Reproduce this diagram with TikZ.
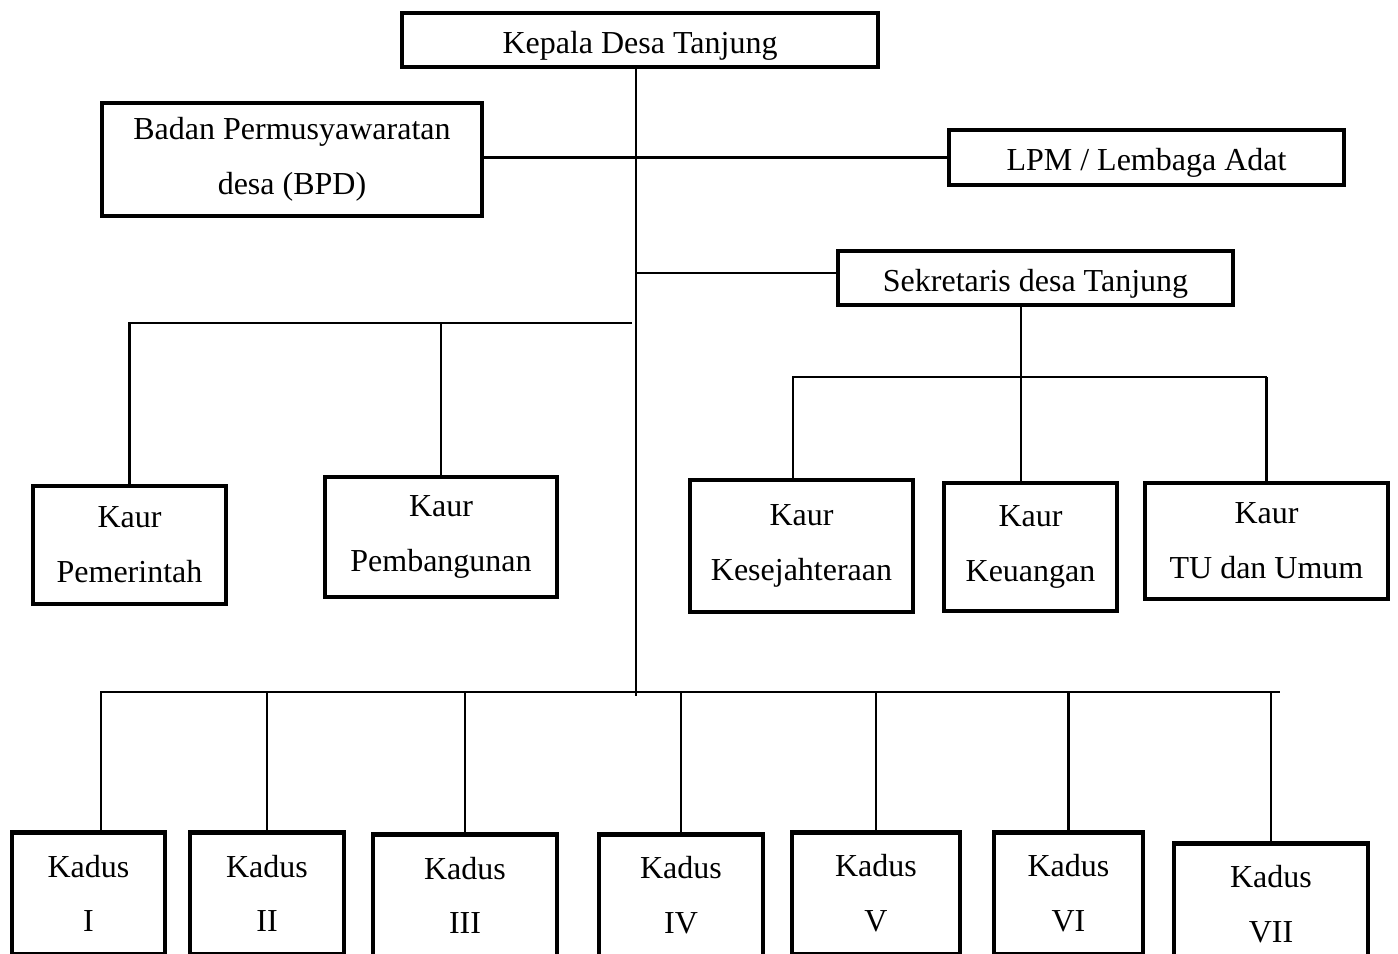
\documentclass[tikz,border=0pt]{standalone}
\usepackage{fontspec}
\setmainfont{Liberation Serif}
\tikzset{
  box/.style={draw,rectangle,line width=3.5pt,inner sep=0pt,align=center,
    font=\fontsize{24}{41}\selectfont},
  onerow/.style={text height=25pt,text depth=5pt},
  sz/.style 2 args={minimum width=#1*0.75pt,minimum height=#2*0.75pt},
  link/.style={line width=1.6pt}
}
\begin{document}
\begin{tikzpicture}[x=0.75pt,y=-0.75pt]
        \clip (0,0) rectangle (1398,953);
        \node[box,onerow,sz={476}{54}] (kepala) at (640,40) {Kepala Desa Tanjung};
        \node[box,sz={380}{113}] (bpd) at (292,159.5) {Badan Permusyawaratan\\desa (BPD)};
        \node[box,onerow,sz={395}{55}] (lpm) at (1146.5,157.5) {LPM / Lembaga Adat};
        \node[box,onerow,sz={395}{54}] (sekdes) at (1035.5,278) {Sekretaris desa Tanjung};
        \node[box,sz={193}{118}] (pem) at (129.5,545) {Kaur\\Pemerintah};
        \node[box,sz={232}{120}] (pemb) at (441,537) {Kaur\\Pembangunan};
        \node[box,sz={223}{132}] (kesej) at (801.5,546) {Kaur\\Kesejahteraan};
        \node[box,sz={173}{128}] (keu) at (1030.5,547) {Kaur\\Keuangan};
        \node[box,sz={243}{116}] (tu) at (1266.5,541) {Kaur\\TU dan Umum};
        \node[box,sz={153}{122},anchor=north] (k1) at (88.5,830) {Kadus\\I};
        \node[box,sz={154}{122},anchor=north] (k2) at (267,830) {Kadus\\II};
        \node[box,sz={184}{122},anchor=north] (k3) at (465,832) {Kadus\\III};
        \node[box,sz={164}{122},anchor=north] (k4) at (681,832) {Kadus\\IV};
        \node[box,sz={168}{122},anchor=north] (k5) at (876,830) {Kadus\\V};
        \node[box,sz={149}{122},anchor=north] (k6) at (1068.5,830) {Kadus\\VI};
        \node[box,sz={194}{122},anchor=north] (k7) at (1271,841) {Kadus\\VII};
        \coordinate (bbus) at (636,692);
        \coordinate (bend) at (1280,692);
        \coordinate (lbus) at (632,323);
        \coordinate (sbus) at (1021,377);
        \draw[link] (kepala.south -| bbus) -- ([yshift=-3]bbus);
        \draw[link] (bpd.east |- lpm.west) -- (lpm.west);
        \draw[link] ([yshift=4]sekdes.west) -- ([yshift=4]sekdes.west -| bbus);
        \draw[link] (lbus) -| (pem.north);
        \draw[link] (pemb.north) -- (pemb.north |- lbus);
        \draw[link] (sekdes.south -| sbus) -- (sbus);
        \draw[link] (kesej.north -| 793,0) |- (tu.north |- sbus);
        \draw[link] (keu.north -| sbus) -- (sbus);
        \draw[link] (tu.north) -- (tu.north |- sbus);
        \draw[link] (k1.north -| 101,0) |- (bend);
        \foreach \k in {k2,k3,k4,k5,k6,k7}
          \draw[link] (\k.north) -- (\k.north |- bbus);
\end{tikzpicture}
\end{document}
